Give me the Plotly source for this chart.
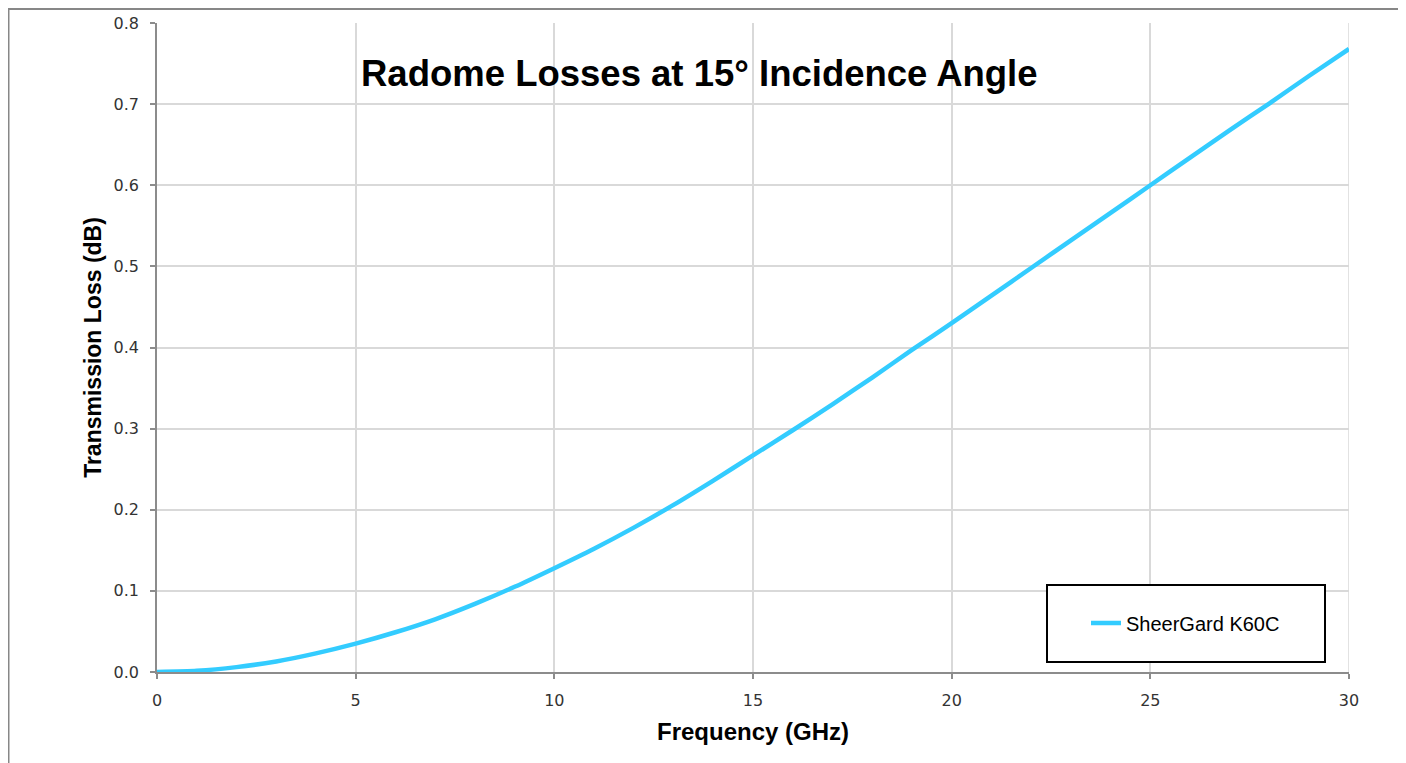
import plotly.graph_objects as go

# Data
freq_ghz = [0, 1, 2, 3, 4, 5, 6, 7, 8, 9, 10, 11, 12, 13, 14, 15, 16, 17, 18, 19, 20,
            21, 22, 23, 24, 25, 26, 27, 28, 29, 30]
loss_db = [0.0, 0.0015, 0.006, 0.013, 0.023, 0.035, 0.049, 0.065, 0.084, 0.105, 0.128,
           0.152, 0.178, 0.206, 0.236, 0.267, 0.298, 0.330, 0.363, 0.397, 0.430,
           0.464, 0.498, 0.532, 0.566, 0.600, 0.634, 0.668, 0.701, 0.735, 0.768]
series_name = "SheerGard K60C"
title_text = "Radome Losses at 15° Incidence Angle"
x_title = "Frequency (GHz)"
y_title = "Transmission Loss (dB)"
x_ticks = [0, 5, 10, 15, 20, 25, 30]
y_ticks = [0.0, 0.1, 0.2, 0.3, 0.4, 0.5, 0.6, 0.7, 0.8]

# page body has an 8px margin; figure coordinates = screen - 8
OFF = 8
W, H = 1406 - OFF, 763 - OFF
L, T = 157 - OFF, 23 - OFF
PR, PB = 1349 - OFF, 672 - OFF
R, B = W - PR, H - PB
pw, ph = W - L - R, H - T - B


def px_x(p):
    return (p - OFF - L) / pw


def px_y(p):
    return (H - B - (p - OFF)) / ph


fig = go.Figure()
fig.add_trace(go.Scatter(
    x=freq_ghz, y=loss_db, mode="lines", name=series_name,
    line=dict(color="#33CCFF", width=4.5, shape="spline", smoothing=0.6),
))

fig.update_layout(
    width=W, height=H,
    margin=dict(l=L, r=R, t=T, b=B, pad=0, autoexpand=False),
    paper_bgcolor="white", plot_bgcolor="white",
    showlegend=True,
    legend=dict(
        x=px_x(1086), y=px_y(623), xanchor="left", yanchor="middle",
        bgcolor="rgba(0,0,0,0)", borderwidth=0,
        font=dict(family="Liberation Sans, Arial", size=20, color="#000000"),
    ),
    annotations=[
        dict(text="<b>" + title_text + "</b>", x=px_x(699), y=px_y(74),
             xref="paper", yref="paper", xanchor="center", yanchor="middle",
             showarrow=False,
             font=dict(family="Liberation Sans, Arial", size=36.5, color="#000000")),
    ],
    shapes=[
        # outer chart border
        dict(type="rect", xref="paper", yref="paper",
             x0=px_x(8.5), x1=px_x(1401), y0=px_y(790), y1=px_y(9),
             line=dict(color="#878787", width=2), fillcolor="rgba(0,0,0,0)", layer="below"),
        # legend box
        dict(type="rect", xref="paper", yref="paper",
             x0=px_x(1047), x1=px_x(1325), y0=px_y(662), y1=px_y(585),
             line=dict(color="#000000", width=2), fillcolor="white", layer="above"),
    ],
)

fig.update_xaxes(
    range=[0, 30], tickvals=x_ticks, ticktext=[str(v) for v in x_ticks],
    automargin=False,
    showgrid=True, gridcolor="#d9d9d9", gridwidth=1.5,
    showline=True, linecolor="#8c8c8c", linewidth=1.5,
    ticks="outside", ticklen=5, tickcolor="#8c8c8c", tickwidth=1.5,
    ticklabelstandoff=8,
    tickfont=dict(family="DejaVu Sans", size=16, color="#333333"),
    zeroline=False,
    title=dict(text="<b>" + x_title + "</b>", standoff=14,
               font=dict(family="Liberation Sans, Arial", size=24, color="#000000")),
)
fig.update_yaxes(
    range=[0, 0.8], tickvals=y_ticks, ticktext=["%.1f" % v for v in y_ticks],
    automargin=False,
    showgrid=True, gridcolor="#d9d9d9", gridwidth=1.5,
    showline=True, linecolor="#8c8c8c", linewidth=1.5,
    ticks="outside", ticklen=5, tickcolor="#8c8c8c", tickwidth=1.5,
    ticklabelstandoff=8,
    tickfont=dict(family="DejaVu Sans", size=16, color="#333333"),
    zeroline=False,
    title=dict(text="<b>" + y_title + "</b>", standoff=6,
               font=dict(family="Liberation Sans, Arial", size=23, color="#000000")),
)

fig.add_shape(type="line", xref="x", yref="paper", x0=30, x1=30, y0=0, y1=1,
              line=dict(color="#d9d9d9", width=1.5), layer="below")

fig.write_html("out.html")
